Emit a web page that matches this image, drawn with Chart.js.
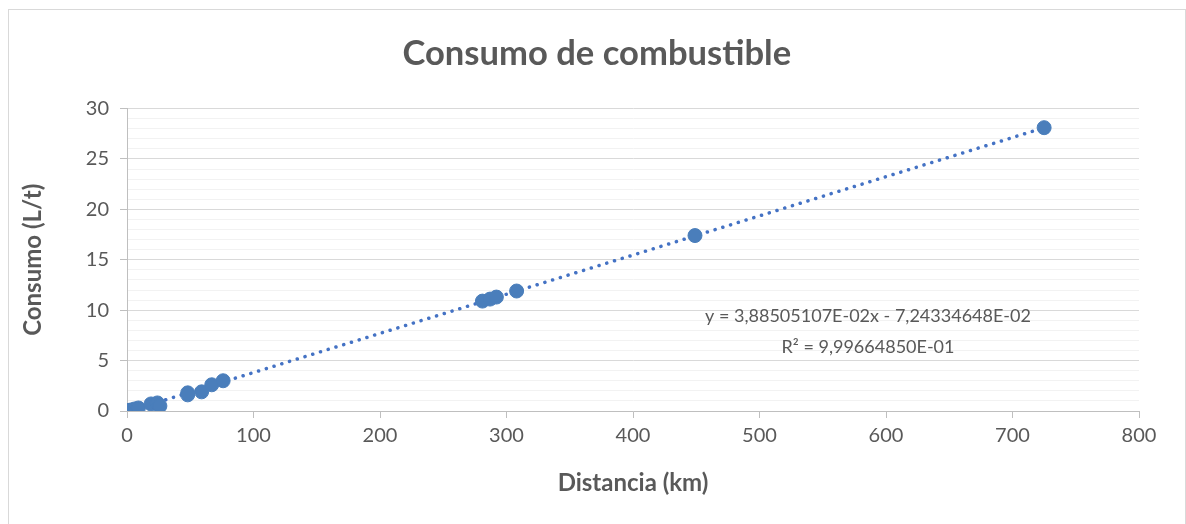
<!DOCTYPE html>
<html>
<head>
<meta charset="utf-8">
<script src="https://cdn.jsdelivr.net/npm/chart.js@4"></script>
<style>
  body { margin: 0; background: #fff; }
  #wrap { position: relative; width: 1186px; height: 524px; }
  #marco { position: absolute; left: 8px; top: 9px; width: 1176px; height: 520px; border: 1px solid #d9d9d9; pointer-events: none; }
</style>
</head>
<body>
<div id="wrap">
  <canvas id="grafico" width="1186" height="524"></canvas>
  <div id="marco"></div>
</div>
<script>
// datos
const distancias = [1, 3, 6, 9, 19, 24, 26, 48, 48, 59, 67, 76, 281, 287, 292, 308, 449, 725];
const consumos = [0.05, 0.1, 0.2, 0.3, 0.7, 0.8, 0.5, 1.8, 1.6, 1.9, 2.6, 3.0, 10.9, 11.1, 11.3, 11.9, 17.4, 28.1];

// línea de tendencia (regresión lineal)
const pendiente = 3.88505107e-2;
const ordenada = -7.24334648e-2;
const textoEcuacion = 'y = 3,88505107E-02x - 7,24334648E-02';
const textoR2 = 'R² = 9,99664850E-01';

const puntos = distancias.map((d, i) => ({ x: d, y: consumos[i] }));
const xMin = 0;
const xMax = Math.max(...distancias);
const tendencia = [xMin, xMax].map(x => ({ x: x, y: pendiente * x + ordenada }));

const FUENTE = 'Lato, "Open Sans", sans-serif';
const GRIS = '#595959';
const AZUL = '#4a7ebb';

const ecuacion = {
    id: 'ecuacion',
    afterDraw(chart) {
        const ctx = chart.ctx;
        ctx.save();
        ctx.font = '18px ' + FUENTE;
        ctx.fillStyle = GRIS;
        ctx.textAlign = 'center';
        ctx.textBaseline = 'middle';
        ctx.fillText(textoEcuacion, 868, 316);
        ctx.fillText(textoR2, 868, 347);
        ctx.restore();
    }
};

new Chart(document.getElementById('grafico').getContext('2d'), {
    type: 'scatter',
    data: {
        datasets: [{
            data: puntos,
            backgroundColor: AZUL,
            borderColor: AZUL,
            pointRadius: 7,
            pointHoverRadius: 7,
            order: 1
        }, {
            data: tendencia,
            showLine: true,
            borderColor: '#4472c4',
            borderWidth: 3.5,
            borderDash: [0.1, 8],
            borderCapStyle: 'round',
            pointRadius: 0,
            fill: false,
            order: 2
        }]
    },
    options: {
        responsive: false,
        animation: false,
        layout: { padding: { left: 18.6, right: 11, top: 17, bottom: 26.6 } },
        plugins: {
            legend: { display: false },
            tooltip: { enabled: false },
            title: {
                display: true,
                text: 'Consumo de combustible',
                color: GRIS,
                font: { family: FUENTE, size: 34.6, weight: 'bold' },
                padding: { top: 15.6, bottom: 34.4 }
            }
        },
        scales: {
            x: {
                type: 'linear',
                min: 0,
                max: 800,
                afterFit: s => { s.height = 86.4; },
                border: { color: '#bfbfbf' },
                grid: { drawOnChartArea: false, drawTicks: true, tickLength: 7, tickColor: '#bfbfbf' },
                ticks: { stepSize: 100, color: GRIS, font: { family: FUENTE, size: 20 }, padding: 6 },
                title: {
                    display: true,
                    text: 'Distancia (km)',
                    color: GRIS,
                    font: { family: FUENTE, size: 24, weight: 'bold' },
                    padding: 0
                }
            },
            y: {
                min: 0,
                max: 30,
                afterFit: s => { s.width = 108.4; },
                border: { color: '#bfbfbf' },
                grid: {
                    color: c => (c.tick && c.tick.value % 5 === 0) ? '#d9d9d9' : '#f2f2f2',
                    tickColor: c => (c.tick && c.tick.value % 5 === 0) ? '#bfbfbf' : 'rgba(0,0,0,0)',
                    tickLength: 7
                },
                ticks: {
                    stepSize: 1,
                    autoSkip: false,
                    color: GRIS,
                    font: { family: FUENTE, size: 20 },
                    padding: 11,
                    callback: v => v % 5 === 0 ? v : ''
                },
                title: {
                    display: true,
                    text: 'Consumo (L/t)',
                    color: GRIS,
                    font: { family: FUENTE, size: 24, weight: 'bold' },
                    padding: 0
                }
            },
            // eje vacío a la derecha para dejar margen y centrar el título
            margen: {
                type: 'linear',
                position: 'right',
                display: true,
                afterFit: s => { s.width = 36; },
                border: { display: false },
                grid: { display: false },
                ticks: { display: false }
            }
        }
    },
    plugins: [ecuacion]
});
</script>
</body>
</html>
